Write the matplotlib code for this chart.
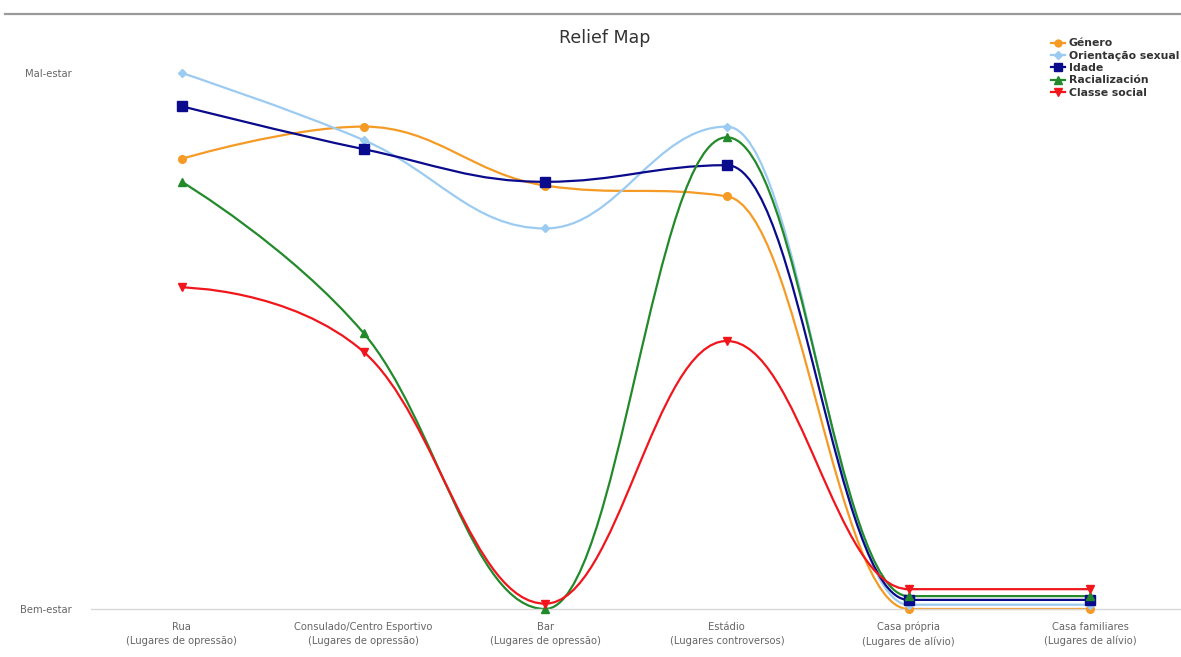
import numpy as np
import matplotlib
matplotlib.use("Agg")
import matplotlib.pyplot as plt
from matplotlib.path import Path
from matplotlib.patches import PathPatch
from matplotlib.lines import Line2D

plt.rcParams['font.family'] = ['DejaVu Sans']

categories = [
    "Rua\n(Lugares de opressão)",
    "Consulado/Centro Esportivo\n(Lugares de opressão)",
    "Bar\n(Lugares de opressão)",
    "Estádio\n(Lugares controversos)",
    "Casa própria\n(Lugares de alívio)",
    "Casa familiares\n(Lugares de alívio)",
]
y_labels = ["Bem-estar", "Mal-estar"]

genero = [8.4, 9.0, 7.9, 7.7, 0.0, 0.0]
orientacao = [10.0, 8.75, 7.1, 9.0, 0.08, 0.08]
idade = [9.38, 8.58, 7.97, 8.28, 0.17, 0.17]
racializacion = [7.97, 5.15, 0.0, 8.8, 0.24, 0.24]
classe = [6.0, 4.8, 0.1, 5.0, 0.37, 0.37]

series = [
    ("Género", genero, "#f59b25", "o", 5.5),
    ("Orientação sexual", orientacao, "#9ccbf2", "D", 4.0),
    ("Idade", idade, "#0a0a8c", "s", 6.5),
    ("Racialización", racializacion, "#228a2a", "^", 6.0),
    ("Classe social", classe, "#f0161c", "v", 6.0),
]


def spline_path(xs, ys, smoothing=1.5):
    """Cubic Bezier spline through the points (Highcharts-style control points)."""
    n = len(xs)
    denom = smoothing + 1
    left = [None] * n
    right = [None] * n
    for i in range(1, n - 1):
        px, py = xs[i], ys[i]
        lx, ly = xs[i - 1], ys[i - 1]
        nx, ny = xs[i + 1], ys[i + 1]
        lcx = (smoothing * px + lx) / denom
        lcy = (smoothing * py + ly) / denom
        rcx = (smoothing * px + nx) / denom
        rcy = (smoothing * py + ny) / denom
        if rcx != lcx:
            corr = ((rcy - lcy) * (rcx - px)) / (rcx - lcx) + py - rcy
            lcy += corr
            rcy += corr
        if lcy > ly and lcy > py:
            lcy = max(ly, py)
            rcy = 2 * py - lcy
        elif lcy < ly and lcy < py:
            lcy = min(ly, py)
            rcy = 2 * py - lcy
        if rcy > ny and rcy > py:
            rcy = max(ny, py)
            lcy = 2 * py - rcy
        elif rcy < ny and rcy < py:
            rcy = min(ny, py)
            lcy = 2 * py - rcy
        left[i] = (lcx, lcy)
        right[i] = (rcx, rcy)
    verts = [(xs[0], ys[0])]
    codes = [Path.MOVETO]
    for i in range(1, n):
        c1 = right[i - 1] if right[i - 1] is not None else (xs[i - 1], ys[i - 1])
        c2 = left[i] if left[i] is not None else (xs[i], ys[i])
        verts += [c1, c2, (xs[i], ys[i])]
        codes += [Path.CURVE4] * 3
    return Path(verts, codes)


fig = plt.figure(figsize=(11.81, 6.57), dpi=100)
ax = fig.add_axes([91 / 1181, 1 - 609 / 657, (1181 - 91) / 1181, (609 - 73) / 657])

x = np.arange(len(categories))
for name, vals, color, marker, ms in series:
    patch = PathPatch(spline_path(list(x), list(vals)), facecolor="none",
                      edgecolor=color, lw=1.6, clip_on=False, zorder=2)
    ax.add_patch(patch)
    ax.plot(x, vals, linestyle="none", marker=marker, color=color,
            markersize=ms, clip_on=False, zorder=3)

ax.set_xlim(-0.5, len(categories) - 0.5)
ax.set_ylim(0, 10)
ax.set_xticks(x)
ax.set_xticklabels(categories, fontsize=7.2, color="#666666", linespacing=1.5)
ax.set_yticks([0, 10])
ax.set_yticklabels(y_labels, fontsize=7.2, color="#666666")
ax.tick_params(axis="both", length=0, pad=9)
ax.tick_params(axis="y", pad=14)
for side in ["top", "right", "left"]:
    ax.spines[side].set_visible(False)
ax.spines["bottom"].set_color("#d8d8d8")
ax.spines["bottom"].set_linewidth(1.0)

fig.text(605 / 1181, 1 - 38 / 657, "Relief Map", ha="center", va="center",
         fontsize=12.5, color="#333333")

# separator line along the top of the figure
fig.add_artist(Line2D([5 / 1181, 1], [1 - 14 / 657, 1 - 14 / 657],
                      color="#9a9a9a", lw=1.6, transform=fig.transFigure))

handles = [Line2D([], [], color=c, marker=m, markersize=ms * 0.9, lw=1.6)
           for _, _, c, m, ms in series]
leg = fig.legend(handles, [s[0] for s in series], loc="upper left",
                 bbox_to_anchor=(1047 / 1181, 1 - 34 / 657), frameon=False,
                 prop={"size": 7.8, "weight": "bold"}, handlelength=1.3,
                 handletextpad=0.3, labelspacing=0.22, borderaxespad=0)
for t in leg.get_texts():
    t.set_color("#333333")

fig.savefig("out.png", dpi=100)
